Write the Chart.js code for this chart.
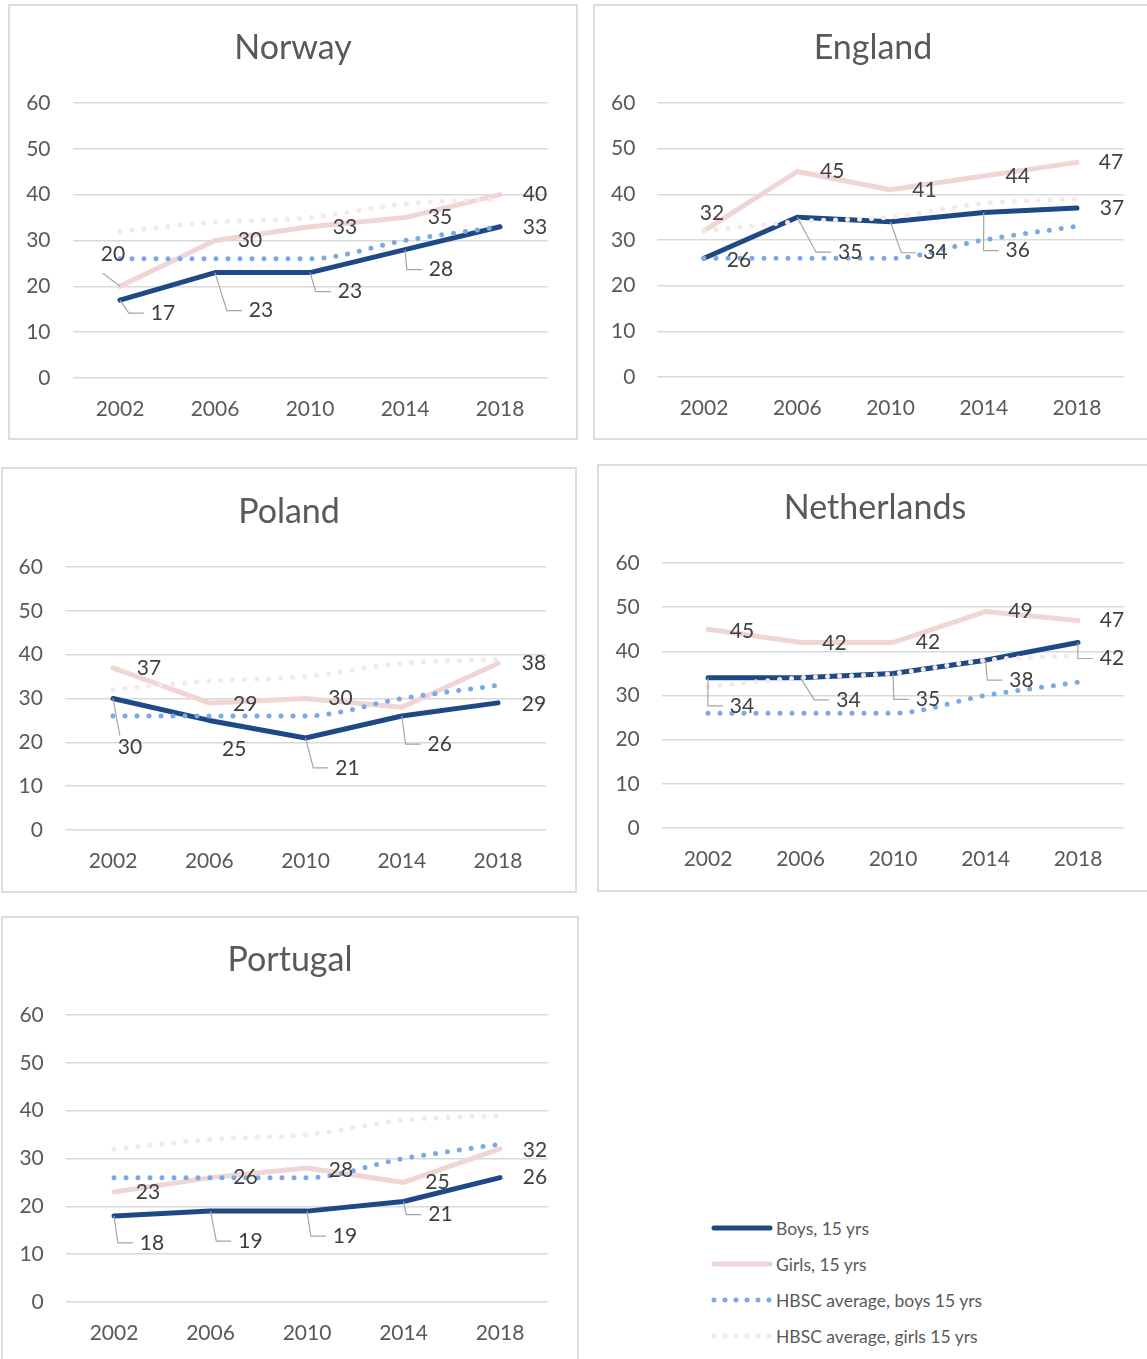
<!DOCTYPE html>
<html>
<head>
<meta charset="utf-8">
<script src="https://cdn.jsdelivr.net/npm/chart.js@4.4.1/dist/chart.umd.min.js"></script>
<style>
body{margin:0;background:#fff;width:1147px;height:1359px;overflow:hidden;position:relative;font-family:Lato,sans-serif}
.panel{position:absolute;border:2px solid #dcdcdc;background:#fff;box-sizing:border-box}
.panel canvas{display:block}
#legend{position:absolute;left:708px;top:1210px;font-size:17.5px;color:#595959}
#legend div{height:36px;display:flex;align-items:center}
#legend svg{margin-right:2px}
</style>
</head>
<body>
<div id="legend"></div>
<script>
const years=['2002','2006','2010','2014','2018'];
const yTicks=[0,10,20,30,40,50,60];
const hbscBoys=[26,26,26,30,33];
const hbscGirls=[32,34,35,38,39];
const norwayBoys=[17,23,23,28,33];
const norwayGirls=[20,30,33,35,40];
const englandBoys=[26,35,34,36,37];
const englandGirls=[32,45,41,44,47];
const polandBoys=[30,25,21,26,29];
const polandGirls=[37,29,30,28,38];
const netherlandsBoys=[34,34,35,38,42];
const netherlandsGirls=[45,42,42,49,47];
const portugalBoys=[18,19,19,21,26];
const portugalGirls=[23,26,28,25,32];
const seriesNames=['Boys, 15 yrs','Girls, 15 yrs','HBSC average, boys 15 yrs','HBSC average, girls 15 yrs'];

const NAVY='#1d4a86', PINK='#efd6d4', BLUE='#7ba9e6', PALE='#f7e7e7';
const GREY='#595959';

// label offsets from the point: [dx, dy, leader] (leader 1 = elbow callout, 2 = straight)
const panels=[
 {title:'Norway',boys:norwayBoys,girls:norwayGirls,box:[8,4,570,436],plot:[72.5,547.5,103,378],titleY:48,
  boysLbl:[[43,13,1],[46,38,1],[40,19,1],[36,20,1],[35,0]],
  girlsLbl:[[-7,-32,2],[35,0],[35,0],[35,0],[35,0]]},
 {title:'England',boys:englandBoys,girls:englandGirls,box:[593,4,560,436],plot:[657.4,1123.6,103,377],titleY:48,
  boysLbl:[[35,2],[53,35,1],[45,31,1],[34,38,1],[35,0]],
  girlsLbl:[[8,-18],[35,0],[34,0],[34,0],[34,0]]},
 {title:'Poland',boys:polandBoys,girls:polandGirls,box:[1,467,576,426],plot:[64.9,546.1,567,830],titleY:512,
  boysLbl:[[17,49,2],[25,29],[42,30,1],[38,28,1],[36,1]],
  girlsLbl:[[36,0],[36,1],[35,0],null,[36,0]]},
 {title:'Netherlands',boys:netherlandsBoys,girls:netherlandsGirls,box:[597,464,556,428],plot:[661.75,1124.25,563,828],titleY:508,
  boysLbl:[[34,28,1],[48,22,1],[35,26,1],[36,20,1],[34,16,1]],
  girlsLbl:[[34,2],[34,1],[35,0],[35,0],[34,0]]},
 {title:'Portugal',boys:portugalBoys,girls:portugalGirls,box:[1,916,578,450],plot:[65.75,548.25,1015,1302],titleY:960,
  boysLbl:[[38,27,1],[40,30,1],[38,25,1],[37,13,1],[35,0]],
  girlsLbl:[[34,0],[35,0],[34,2],[34,0],[35,1]]}
];

// panel title, centred on the whole canvas
const panelTitle={
 id:'panelTitle',
 afterDraw(chart,args,opts){
  const ctx=chart.ctx;
  ctx.save();
  ctx.font='34px Lato';
  ctx.fillStyle=GREY;
  ctx.textAlign='center';
  ctx.textBaseline='middle';
  ctx.fillText(opts.text,chart.width/2,opts.y);
  ctx.restore();
 }
};

const pointLabels={
 id:'pointLabels',
 afterDatasetsDraw(chart){
  const ctx=chart.ctx;
  ctx.save();
  ctx.font='21px Lato';
  ctx.textAlign='center';
  ctx.textBaseline='middle';
  chart.data.datasets.forEach((ds,i)=>{
   if(!ds.labelPos) return;
   chart.getDatasetMeta(i).data.forEach((pt,j)=>{
    const p=ds.labelPos[j];
    if(!p) return;
    const txt=String(ds.data[j]);
    const lx=pt.x+p[0], ly=pt.y+p[1];
    const w=ctx.measureText(txt).width;
    const left=lx-w/2;
    ctx.strokeStyle='#a5a5a5';
    ctx.lineWidth=1.2;
    if(p[2]===1){
     ctx.beginPath();
     ctx.moveTo(pt.x,pt.y);
     ctx.lineTo(left-22,ly);
     ctx.lineTo(left-7,ly);
     ctx.stroke();
    }else if(p[2]===2){
     const sy=p[1]<0?ly+19:ly-12;
     ctx.beginPath();
     ctx.moveTo(left+2,sy);
     ctx.lineTo(pt.x,pt.y);
     ctx.stroke();
    }
    ctx.fillStyle='#404040';
    ctx.fillText(txt,lx,ly);
   });
  });
  ctx.restore();
 }
};

panels.forEach(p=>{
 const [bx,by,bw,bh]=p.box;
 const div=document.createElement('div');
 div.className='panel';
 Object.assign(div.style,{left:bx+'px',top:by+'px',width:bw+'px',height:bh+'px'});
 const cv=document.createElement('canvas');
 const x0=bx+2, y0=by+2, cw=bw-4, ch=bh-4;
 cv.width=cw; cv.height=ch;
 div.appendChild(cv);
 document.body.appendChild(div);
 const [pl,pr,pt,pb]=p.plot;
 new Chart(cv,{
  type:'line',
  data:{labels:years,datasets:[
   {label:seriesNames[0],data:p.boys,borderColor:NAVY,borderWidth:5,order:4,labelPos:p.boysLbl},
   {label:seriesNames[1],data:p.girls,borderColor:PINK,borderWidth:5,order:3,labelPos:p.girlsLbl},
   {label:seriesNames[2],data:hbscBoys,borderColor:BLUE,borderWidth:5,borderDash:[0,12],cubicInterpolationMode:'monotone',order:2},
   {label:seriesNames[3],data:hbscGirls,borderColor:PALE,borderWidth:5,borderDash:[0,12],cubicInterpolationMode:'monotone',order:1}
  ]},
  options:{
   responsive:false,animation:false,devicePixelRatio:1,
   layout:{padding:{left:0,right:x0+cw-pr,top:pt-y0,bottom:0}},
   elements:{point:{radius:0,hoverRadius:0},line:{borderCapStyle:'round',borderJoinStyle:'round',tension:0,fill:false}},
   plugins:{
    legend:{display:false},tooltip:{enabled:false},title:{display:false},
    panelTitle:{text:p.title,y:p.titleY-y0}
   },
   scales:{
    x:{offset:true,grid:{display:false},border:{display:false},
     ticks:{color:GREY,font:{family:'Lato',size:21},padding:11,maxRotation:0},
     afterFit(s){s.height=y0+ch-pb;}},
    y:{min:yTicks[0],max:yTicks[yTicks.length-1],
     grid:{color:'#d9d9d9',lineWidth:1.5,drawTicks:false},border:{display:false},
     ticks:{stepSize:yTicks[1]-yTicks[0],color:GREY,font:{family:'Lato',size:21},padding:22},
     afterFit(s){s.width=pl-x0;}}
   }
  },
  plugins:[pointLabels,panelTitle]
 });
});

// legend rows
const legendStyles=[
 {color:NAVY,dash:''},{color:PINK,dash:''},{color:BLUE,dash:'0 11'},{color:PALE,dash:'0 11'}
];
const lg=document.getElementById('legend');
seriesNames.forEach((n,i)=>{
 const s=legendStyles[i];
 const row=document.createElement('div');
 row.innerHTML=`<svg width="66" height="10"><line x1="6" y1="5" x2="62" y2="5" stroke="${s.color}" stroke-width="5" stroke-linecap="round" stroke-dasharray="${s.dash}"/></svg><span>${n}</span>`;
 lg.appendChild(row);
});
</script>
</body>
</html>
